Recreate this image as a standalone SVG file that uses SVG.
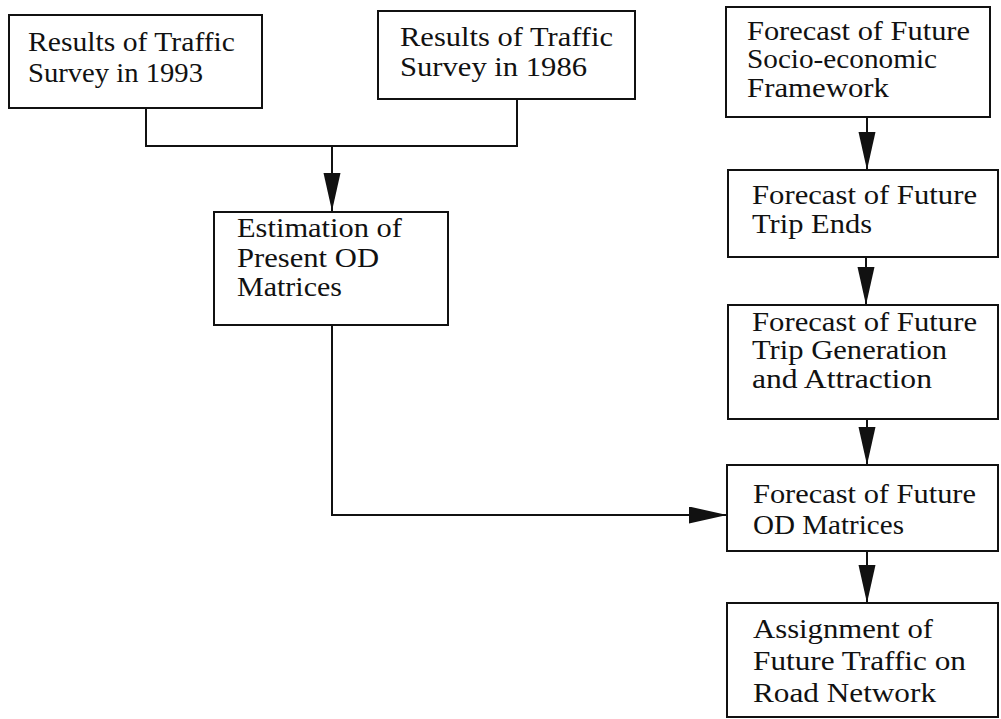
<svg xmlns="http://www.w3.org/2000/svg" width="1001" height="719" viewBox="0 0 1001 719">
<style>
.box{fill:#fff;stroke:#111;stroke-width:2}
.t{font-family:"Liberation Serif","Times New Roman",serif;font-size:27px;fill:#111}
.c{fill:none;stroke:#111;stroke-width:2}
</style>
<defs>
<marker id="ah" markerUnits="userSpaceOnUse" markerWidth="40" markerHeight="18" refX="38" refY="8.5" orient="auto">
<path d="M0,0 L38,8.5 L0,17 z" fill="#111"/>
</marker>
</defs>
<rect width="1001" height="719" fill="#fff"/>
<g id="connectors">
<path class="c" d="M146,108 V146 H517 V99"/>
<path class="c" d="M332,146 V211" marker-end="url(#ah)"/>
<path class="c" d="M332,325 V515 H727" marker-end="url(#ah)"/>
<path class="c" d="M867,117 V170" marker-end="url(#ah)"/>
<path class="c" d="M866,257 V305" marker-end="url(#ah)"/>
<path class="c" d="M867,419 V465" marker-end="url(#ah)"/>
<path class="c" d="M867,551 V603" marker-end="url(#ah)"/>
</g>
<g id="survey1993">
<rect class="box" x="9" y="15" width="253" height="93"/>
<text class="t" x="28" y="51" textLength="207" lengthAdjust="spacingAndGlyphs">Results of Traffic</text>
<text class="t" x="28" y="82" textLength="175" lengthAdjust="spacingAndGlyphs">Survey in 1993</text>
</g>
<g id="survey1986">
<rect class="box" x="378" y="11" width="257" height="88"/>
<text class="t" x="400" y="46" textLength="213" lengthAdjust="spacingAndGlyphs">Results of Traffic</text>
<text class="t" x="400" y="76" textLength="187" lengthAdjust="spacingAndGlyphs">Survey in 1986</text>
</g>
<g id="socioeconomic">
<rect class="box" x="726" y="7" width="264" height="110"/>
<text class="t" x="747" y="40" textLength="223" lengthAdjust="spacingAndGlyphs">Forecast of Future</text>
<text class="t" x="747" y="68" textLength="190" lengthAdjust="spacingAndGlyphs">Socio-economic</text>
<text class="t" x="747" y="97" textLength="142" lengthAdjust="spacingAndGlyphs">Framework</text>
</g>
<g id="presentOD">
<rect class="box" x="214" y="212" width="234" height="113"/>
<text class="t" x="237" y="237" textLength="165" lengthAdjust="spacingAndGlyphs">Estimation of</text>
<text class="t" x="237" y="267" textLength="142" lengthAdjust="spacingAndGlyphs">Present OD</text>
<text class="t" x="237" y="296" textLength="105" lengthAdjust="spacingAndGlyphs">Matrices</text>
</g>
<g id="tripEnds">
<rect class="box" x="728" y="170" width="270" height="87"/>
<text class="t" x="752" y="204" textLength="225" lengthAdjust="spacingAndGlyphs">Forecast of Future</text>
<text class="t" x="752" y="233" textLength="120" lengthAdjust="spacingAndGlyphs">Trip Ends</text>
</g>
<g id="tripGeneration">
<rect class="box" x="728" y="305" width="270" height="114"/>
<text class="t" x="752" y="331" textLength="225" lengthAdjust="spacingAndGlyphs">Forecast of Future</text>
<text class="t" x="752" y="359" textLength="195" lengthAdjust="spacingAndGlyphs">Trip Generation</text>
<text class="t" x="752" y="388" textLength="180" lengthAdjust="spacingAndGlyphs">and Attraction</text>
</g>
<g id="futureOD">
<rect class="box" x="727" y="465" width="271" height="86"/>
<text class="t" x="753" y="503" textLength="223" lengthAdjust="spacingAndGlyphs">Forecast of Future</text>
<text class="t" x="753" y="534" textLength="151" lengthAdjust="spacingAndGlyphs">OD Matrices</text>
</g>
<g id="assignment">
<rect class="box" x="727" y="603" width="271" height="114"/>
<text class="t" x="753" y="638" textLength="180" lengthAdjust="spacingAndGlyphs">Assignment of</text>
<text class="t" x="753" y="670" textLength="213" lengthAdjust="spacingAndGlyphs">Future Traffic on</text>
<text class="t" x="753" y="702" textLength="183" lengthAdjust="spacingAndGlyphs">Road Network</text>
</g>
</svg>
